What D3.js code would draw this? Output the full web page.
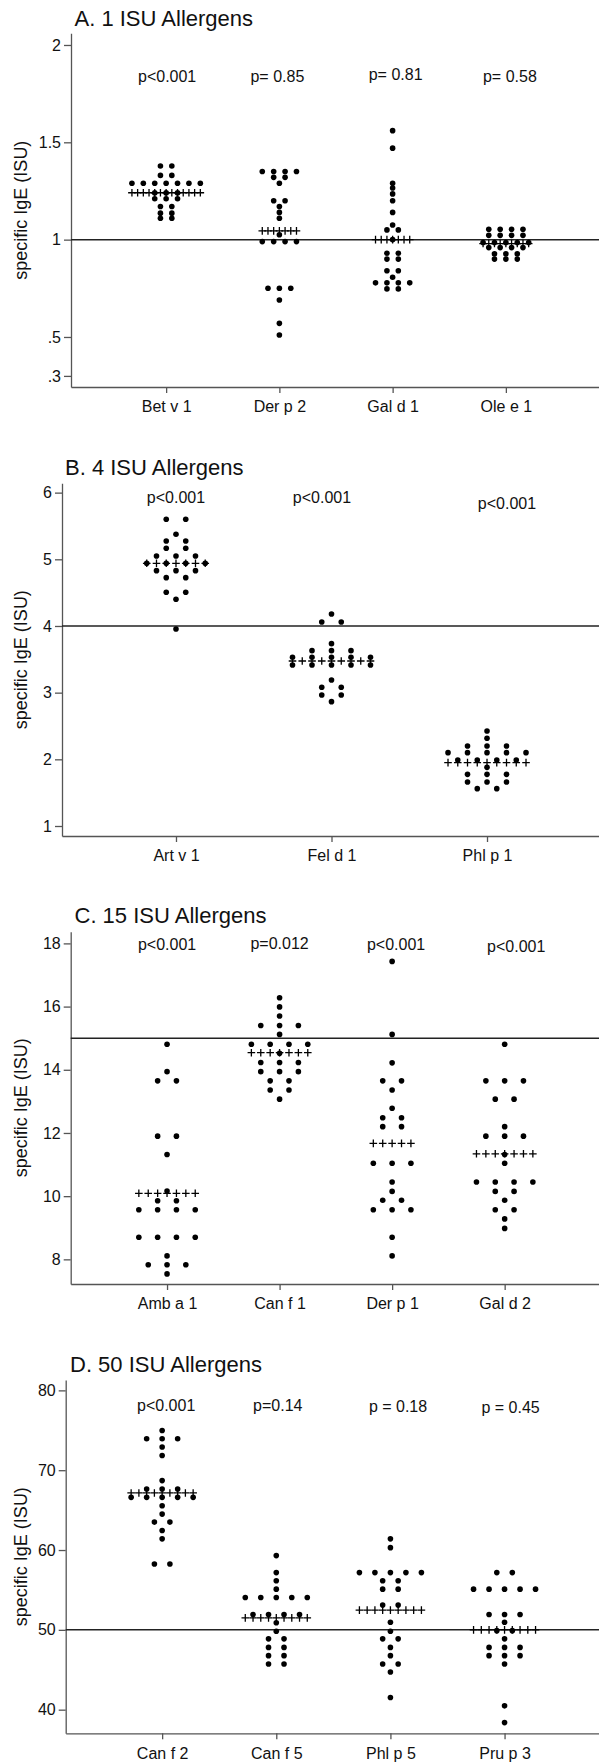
<!DOCTYPE html>
<html>
<head>
<meta charset="utf-8">
<script src="https://cdn.jsdelivr.net/npm/d3@7"></script>
<style>
body { margin: 0; background: #fff; }
svg { display: block; font-family: "Liberation Sans", Arial, sans-serif; }
</style>
</head>
<body>
<svg width="599" height="1763"></svg>
<script>
"use strict";

// A. 1 ISU
const catsA = ['Bet v 1', 'Der p 2', 'Gal d 1', 'Ole e 1'];
const betV1 = [1.378, 1.378, 1.33, 1.33, 1.29, 1.29, 1.29, 1.29, 1.29, 1.29, 1.29, 1.24, 1.24, 1.24,
    1.21, 1.21, 1.21, 1.17, 1.17, 1.136, 1.136, 1.11, 1.11];
const derP2 = [1.35, 1.35, 1.35, 1.35, 1.32, 1.32, 1.29, 1.2, 1.2, 1.17, 1.14, 1.11, 1.025,
    0.99, 0.99, 0.99, 0.99, 0.75, 0.75, 0.75, 0.69, 0.57, 0.51];
const galD1 = [1.56, 1.47, 1.29, 1.265, 1.235, 1.2, 1.14, 1.075, 1.05, 1.05, 1.0, 0.93, 0.93,
    0.9, 0.9, 0.84, 0.84, 0.807, 0.778, 0.778, 0.778, 0.778, 0.747, 0.747];
const oleE1 = [1.053, 1.053, 1.053, 1.053, 1.022, 1.022, 1.022, 1.022, 0.985, 0.985, 0.985, 0.985, 0.985,
    0.959, 0.959, 0.959, 0.959, 0.927, 0.927, 0.927, 0.9, 0.9, 0.9];
const mediansA = [1.241, 1.045, 1.0, 0.98];
const pTextA = ['p<0.001', 'p= 0.85', 'p= 0.81', 'p= 0.58'];
const ticksA = [0.3, 0.5, 1, 1.5, 2];
const tickLabelsA = ['.3', '.5', '1', '1.5', '2'];

// B. 4 ISU
const catsB = ['Art v 1', 'Fel d 1', 'Phl p 1'];
const artV1 = [5.6, 5.6, 5.375, 5.275, 5.275, 5.165, 5.165, 5.05, 5.05, 5.05, 4.94, 4.94, 4.94, 4.94,
    4.83, 4.83, 4.83, 4.725, 4.725, 4.505, 4.505, 4.4, 3.955];
const felD1 = [4.18, 4.06, 4.06, 3.735, 3.63, 3.63, 3.63, 3.53, 3.53, 3.53, 3.53, 3.53,
    3.415, 3.415, 3.415, 3.415, 3.415, 3.19, 3.08, 3.08, 2.965, 2.965, 2.865];
const phlP1 = [2.425, 2.315, 2.2, 2.2, 2.2, 2.1, 2.1, 2.1, 2.1, 2.1, 1.99, 1.99, 1.99, 1.99,
    1.88, 1.775, 1.775, 1.775, 1.66, 1.66, 1.66, 1.56, 1.56];
const mediansB = [4.94, 3.475, 1.95];
const pTextB = ['p<0.001', 'p<0.001', 'p<0.001'];
const ticksB = [1, 2, 3, 4, 5, 6];

// C. 15 ISU
const catsC = ['Amb a 1', 'Can f 1', 'Der p 1', 'Gal d 2'];
const ambA1 = [14.81, 13.94, 13.65, 13.65, 11.9, 11.9, 11.32, 10.16, 9.855, 9.855,
    9.57, 9.57, 9.57, 9.57, 8.7, 8.7, 8.7, 8.7, 8.11, 7.83, 7.83, 7.83, 7.54];
const canF1 = [16.28, 15.99, 15.7, 15.4, 15.4, 15.4, 15.12, 14.81, 14.81, 14.81, 14.81, 14.52,
    14.23, 14.23, 14.23, 13.94, 13.94, 13.94, 13.65, 13.65, 13.36, 13.36, 13.07];
const derP1 = [17.43, 15.12, 14.22, 13.65, 13.65, 13.36, 12.78, 12.48, 12.48, 12.2, 12.2,
    11.04, 11.04, 11.04, 10.45, 10.15, 9.87, 9.87, 9.57, 9.57, 9.57, 8.7, 8.11];
const galD2 = [14.81, 13.65, 13.65, 13.65, 13.07, 13.07, 12.2, 11.9, 11.9, 11.9, 11.32, 11.04,
    10.45, 10.45, 10.45, 10.45, 10.15, 10.15, 9.87, 9.57, 9.57, 9.28, 8.98];
const mediansC = [10.09, 14.54, 11.67, 11.34];
const pTextC = ['p<0.001', 'p=0.012', 'p<0.001', 'p<0.001'];
const ticksC = [8, 10, 12, 14, 16, 18];

// D. 50 ISU
const catsD = ['Can f 2', 'Can f 5', 'Phl p 5', 'Pru p 3'];
const canF2 = [74.98, 73.94, 73.94, 73.94, 72.9, 71.84, 68.7, 67.65, 67.65, 67.65,
    66.6, 66.6, 66.6, 66.6, 66.6, 65.55, 64.5, 63.5, 63.5, 62.45, 61.4, 58.25, 58.25];
const canF5 = [59.3, 57.17, 56.16, 55.1, 54.06, 54.06, 54.06, 54.06, 54.06, 51.92, 51.92, 51.92, 51.92,
    50.88, 49.83, 48.87, 48.87, 47.8, 47.8, 46.77, 46.77, 45.72, 45.72];
const phlP5 = [61.4, 60.3, 57.17, 57.17, 57.17, 57.17, 57.17, 56.16, 56.16, 55.1, 55.1, 53.1, 53.1,
    50.96, 49.83, 48.87, 48.87, 47.8, 46.77, 45.72, 45.72, 44.72, 41.52];
const pruP3 = [57.17, 57.17, 55.1, 55.1, 55.1, 55.1, 55.1, 51.92, 51.92, 51.92, 50.96, 49.9, 49.9,
    48.87, 47.8, 47.8, 47.8, 46.77, 46.77, 46.77, 45.72, 40.48, 38.38];
const mediansD = [67.15, 51.5, 52.47, 50.0];
const pTextD = ['p<0.001', 'p=0.14', 'p = 0.18', 'p = 0.45'];
const ticksD = [40, 50, 60, 70, 80];

const panels = [
    {title: 'A. 1 ISU Allergens', cats: catsA, groups: [betV1, derP2, galD1, oleE1], medians: mediansA,
     pText: pTextA, ticks: ticksA, tickLabels: tickLabelsA, ref: 1,
     top: 33.3, bottom: 387, axisX: 71, domain: [0.243, 2.06], pad: 0.84, gap: 11.4,
     titleX: 74.5, titleY: 26, pY: [82, 82, 80, 82], pDx: [1, -2, 3, 4]},
    {title: 'B. 4 ISU Allergens', cats: catsB, groups: [artV1, felD1, phlP1], medians: mediansB,
     pText: pTextB, ticks: ticksB, tickLabels: ticksB.map(String), ref: 4,
     top: 483.3, bottom: 836, axisX: 62, domain: [0.85, 6.14], pad: 0.733, gap: 19.5,
     titleX: 65, titleY: 475, pY: [503, 503, 509], pDx: [0, -9.5, 20]},
    {title: 'C. 15 ISU Allergens', cats: catsC, groups: [ambA1, canF1, derP1, galD2], medians: mediansC,
     pText: pTextC, ticks: ticksC, tickLabels: ticksC.map(String), ref: 15,
     top: 931.7, bottom: 1284, axisX: 70.7, domain: [7.22, 18.37], pad: 0.856, gap: 18.8,
     titleX: 74.5, titleY: 922.7, pY: [950, 949, 950, 952], pDx: [0, 0, 4, 11.6]},
    {title: 'D. 50 ISU Allergens', cats: catsD, groups: [canF2, canF5, phlP5, pruP3], medians: mediansD,
     pText: pTextD, ticks: ticksD, tickLabels: ticksD.map(String), ref: 50,
     top: 1380, bottom: 1733.3, axisX: 65.7, domain: [37.04, 81.3], pad: 0.845, gap: 15.5,
     titleX: 70, titleY: 1371.7, pY: [1410.7, 1410.7, 1411.7, 1413.3], pDx: [4, 1.5, 7.6, 6]}
];

const svg = d3.select('svg');
const ink = '#111';
const axisInk = '#555';

function drawPanel(p) {
    const g = svg.append('g');
    const x = d3.scalePoint().domain(p.cats).range([p.axisX, 601]).padding(p.pad);
    const y = d3.scaleLinear().domain(p.domain).range([p.bottom, p.top]);

    g.append('text')
        .attr('x', p.titleX).attr('y', p.titleY)
        .attr('font-size', 22).attr('fill', ink)
        .text(p.title);

    // y axis
    const ya = g.append('g')
        .attr('transform', `translate(${p.axisX},0)`)
        .call(d3.axisLeft(y).tickValues(p.ticks)
            .tickFormat((d, i) => p.tickLabels[i]).tickSize(7).tickSizeOuter(0).tickPadding(3));
    // x axis
    const xa = g.append('g')
        .attr('transform', `translate(0,${p.bottom})`)
        .call(d3.axisBottom(x).tickSize(6).tickSizeOuter(0).tickPadding(8));
    [ya, xa].forEach(a => {
        a.selectAll('path, line').attr('stroke', axisInk).attr('stroke-width', 1.3);
        a.selectAll('text').attr('font-size', 16).attr('fill', ink)
            .attr('font-family', '"Liberation Sans", Arial, sans-serif');
    });

    g.append('text')
        .attr('transform', `translate(27,${(p.top + p.bottom) / 2}) rotate(-90)`)
        .attr('text-anchor', 'middle')
        .attr('font-size', 18).attr('fill', ink)
        .text('specific IgE (ISU)');

    // reference line
    g.append('line')
        .attr('x1', p.axisX).attr('x2', 599)
        .attr('y1', y(p.ref)).attr('y2', y(p.ref))
        .attr('stroke', '#222').attr('stroke-width', 1.5);

    p.groups.forEach((vals, gi) => {
        const cx = x(p.cats[gi]);
        const rows = Array.from(d3.group(vals, v => v), ([v, arr]) => ({v, k: arr.length}));
        const dots = [];
        rows.forEach(r => {
            for (let j = 0; j < r.k; j++) dots.push({v: r.v, off: (j - (r.k - 1) / 2) * p.gap});
        });
        g.append('g').selectAll('circle')
            .data(dots)
            .enter().append('circle')
            .attr('cx', d => cx + d.off)
            .attr('cy', d => y(d.v))
            .attr('r', 2.8)
            .attr('fill', '#000');

        const maxK = d3.max(rows, r => r.k);
        const plus = d3.range(-(maxK - 1), maxK).map(j => j * p.gap / 2);
        g.append('g').selectAll('path')
            .data(plus)
            .enter().append('path')
            .attr('transform', d => `translate(${cx + d},${y(p.medians[gi])})`)
            .attr('d', 'M-3.8,0H3.8M0,-3.8V3.8')
            .attr('stroke', '#000').attr('stroke-width', 1.3);

        g.append('text')
            .attr('x', cx + p.pDx[gi]).attr('y', p.pY[gi])
            .attr('text-anchor', 'middle')
            .attr('font-size', 16).attr('fill', ink)
            .text(p.pText[gi]);
    });
}

panels.forEach(drawPanel);
</script>
</body>
</html>
